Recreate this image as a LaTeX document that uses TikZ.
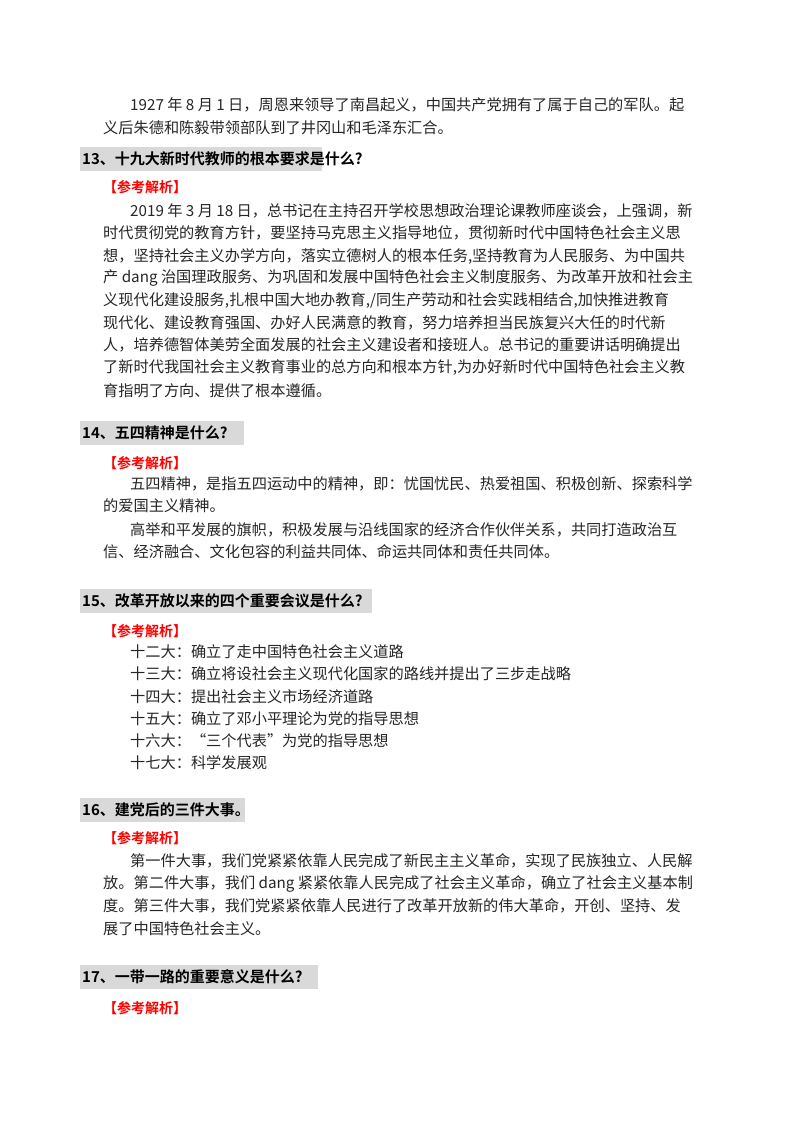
\documentclass[tikz,border=0pt]{standalone}
\usepackage{fontspec}
\setmainfont{Noto Sans CJK SC}
\newfontfamily\cjkb{Noto Sans CJK SC Bold}
\begin{document}
\begin{tikzpicture}[x=1pt,y=-1pt,
  body/.style={anchor=west,inner sep=0pt,font=\fontsize{15.2}{16}\selectfont,text=black!85},
  ref/.style={anchor=west,inner sep=0pt,font=\cjkb\fontsize{14}{16}\selectfont,text=red},
  head/.style={anchor=west,inner sep=0pt,font=\cjkb\fontsize{15}{17}\selectfont}]
\useasboundingbox[fill=white] (0,0) rectangle (800,1132);
\def\hd#1#2#3#4{\fill[black!15] (80,#1-12) rectangle (#2,#1+12); \node[head] (#3) at (82,#1) {#4};}
\node[body] (a1) at (130,105) {1927 年 8 月 1 日，周恩来领导了南昌起义，中国共产党拥有了属于自己的军队。起};
\node[body] (a2) at (103,128) {义后朱德和陈毅带领部队到了井冈山和毛泽东汇合。};
\hd{159}{322}{h13}{13、十九大新时代教师的根本要求是什么?}
\node[ref] (r13) at (103,187) {【参考解析】};
\node[body] (b1) at (130,211) {2019 年 3 月 18 日，总书记在主持召开学校思想政治理论课教师座谈会，上强调，新};
\node[body] (b2) at (103,233) {时代贯彻党的教育方针，要坚持马克思主义指导地位，贯彻新时代中国特色社会主义思};
\node[body] (b3) at (103,256) {想，坚持社会主义办学方向，落实立德树人的根本任务,坚持教育为人民服务、为中国共};
\node[body] (b4) at (103,278) {产 dang 治国理政服务、为巩固和发展中国特色社会主义制度服务、为改革开放和社会主};
\node[body] (b5) at (103,301) {义现代化建设服务,扎根中国大地办教育,/同生产劳动和社会实践相结合,加快推进教育};
\node[body] (b6) at (103,323) {现代化、建设教育强国、办好人民满意的教育，努力培养担当民族复兴大任的时代新};
\node[body] (b7) at (103,345) {人，培养德智体美劳全面发展的社会主义建设者和接班人。总书记的重要讲话明确提出};
\node[body] (b8) at (103,368) {了新时代我国社会主义教育事业的总方向和根本方针,为办好新时代中国特色社会主义教};
\node[body] (b9) at (103,391) {育指明了方向、提供了根本遵循。};
\hd{433}{244}{h14}{14、五四精神是什么?}
\node[ref] (r14) at (103,463) {【参考解析】};
\node[body] (c1) at (130,484) {五四精神，是指五四运动中的精神，即：忧国忧民、热爱祖国、积极创新、探索科学};
\node[body] (c2) at (103,506) {的爱国主义精神。};
\node[body] (c3) at (130,530) {高举和平发展的旗帜，积极发展与沿线国家的经济合作伙伴关系，共同打造政治互};
\node[body] (c4) at (103,552) {信、经济融合、文化包容的利益共同体、命运共同体和责任共同体。};
\hd{601}{372}{h15}{15、改革开放以来的四个重要会议是什么?}
\node[ref] (r15) at (103,631) {【参考解析】};
\node[body] (d1) at (130,652) {十二大：确立了走中国特色社会主义道路};
\node[body] (d2) at (130,674) {十三大：确立将设社会主义现代化国家的路线并提出了三步走战略};
\node[body] (d3) at (130,697) {十四大：提出社会主义市场经济道路};
\node[body] (d4) at (130,719) {十五大：确立了邓小平理论为党的指导思想};
\node[body] (d5) at (130,741) {十六大：“三个代表”为党的指导思想};
\node[body] (d6) at (130,763) {十七大：科学发展观};
\hd{810}{245}{h16}{16、建党后的三件大事。}
\node[ref] (r16) at (103,838) {【参考解析】};
\node[body] (e1) at (130,861) {第一件大事，我们党紧紧依靠人民完成了新民主主义革命，实现了民族独立、人民解};
\node[body] (e2) at (103,884) {放。第二件大事，我们 dang 紧紧依靠人民完成了社会主义革命，确立了社会主义基本制};
\node[body] (e3) at (103,906) {度。第三件大事，我们党紧紧依靠人民进行了改革开放新的伟大革命，开创、坚持、发};
\node[body] (e4) at (103,929) {展了中国特色社会主义。};
\hd{977}{318}{h17}{17、一带一路的重要意义是什么?}
\node[ref] (r17) at (103,1008) {【参考解析】};
\end{tikzpicture}
\end{document}
